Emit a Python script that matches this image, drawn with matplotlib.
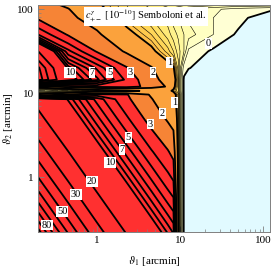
import numpy as np
import matplotlib
matplotlib.use('Agg')
import matplotlib.pyplot as plt
from matplotlib.ticker import FixedLocator, FixedFormatter

plt.rcParams['font.family'] = ['Liberation Serif', 'DejaVu Serif']
plt.rcParams['mathtext.fontset'] = 'stix'

# grid nodes (arcmin)
theta1 = [0.19, 0.45, 1.0, 2.25, 4.5, 7.1, 8.3, 9.5, 11.1, 12.6, 25, 50, 125]
theta2 = [0.215, 0.63, 2.0, 5.0, 8.5, 9.65, 10.7, 12.0, 14.5, 20, 31.6, 50, 79, 100, 116]

# c^gamma_{+-} in units of 1e-10, one row per theta2 value
c_pm = [
    [109, 60, 34.7, 19.9, 12.4, 9.0, 8.0, 1.0, -0.02, -0.3, -0.3, -0.3, -0.3],
    [64, 35.7, 20.5, 11.8, 7.3, 5.3, 4.8, 0.9, -0.02, -0.3, -0.3, -0.3, -0.3],
    [36.3, 20.2, 11.6, 6.65, 4.13, 3.1, 2.7, 0.85, -0.02, -0.3, -0.3, -0.3, -0.3],
    [23.0, 12.8, 7.35, 4.2, 2.6, 1.9, 1.7, 0.8, -0.02, -0.3, -0.3, -0.3, -0.3],
    [17.7, 9.8, 5.65, 3.24, 2.05, 1.47, 1.3, 0.75, -0.02, -0.3, -0.3, -0.3, -0.3],
    [1.2, 2.1, 3.5, 3.1, 1.9, 1.4, 1.3, 0.75, -0.02, -0.3, -0.3, -0.3, -0.3],
    [0.15, 0.4, 0.7, 0.9, 1.1, 1.2, 0.9, 0.6, -0.02, -0.3, -0.3, -0.3, -0.3],
    [1.5, 2.6, 3.4, 3.6, 2.6, 1.9, 1.2, 0.6, -0.02, -0.3, -0.3, -0.3, -0.3],
    [52, 11.5, 7.3, 3.8, 2.3, 1.7, 1.4, 0.6, -0.02, -0.3, -0.3, -0.3, -0.3],
    [45, 9.6, 5.8, 3.1, 2.1, 1.2, 1.05, 0.55, 0.05, 0.02, -0.3, -0.3, -0.3],
    [21, 5.3, 2.9, 1.9, 1.1, 0.75, 0.6, 0.45, 0.3, 0.08, -0.02, -0.3, -0.3],
    [5.1, 2.9, 2.2, 1.15, 0.8, 0.55, 0.45, 0.38, 0.3, 0.25, 0.1, -0.02, -0.3],
    [2.9, 2.3, 1.5, 0.85, 0.6, 0.45, 0.35, 0.3, 0.22, 0.18, 0.1, 0.04, -0.1],
    [2.7, 2.05, 1.15, 0.72, 0.55, 0.42, 0.35, 0.3, 0.25, 0.2, 0.12, 0.06, 0.02],
    [2.5, 1.75, 1.05, 0.7, 0.6, 0.55, 0.55, 0.55, 0.5, 0.5, 0.45, 0.4, 0.4],
]

thick_levels = [0, 1, 2, 3, 4, 5, 6, 7, 8, 9, 10, 20, 30, 40, 50, 60, 70, 80, 90, 100]
thin_levels = [0.1, 0.2, 0.3, 0.4, 0.5, 0.6, 0.7, 0.8, 0.9]

fill_bounds = [-5, 0, 0.1, 0.2, 0.3, 0.4, 0.5, 0.6, 0.7, 0.8, 0.9, 1, 2, 3, 1000]
fill_colors = ['#E1FAFF', '#FFFFD4', '#FFFFC2', '#FFFCB0', '#FFF89E', '#FFF28C',
               '#FFEA78', '#FFE066', '#FFD658', '#FFCA4E', '#FFBE48', '#FBA23C',
               '#F68436', '#FF3030']

# contour labels (text, theta1, theta2)
lab_text = ['10', '7', '5', '3', '2', '1',
            '1', '2', '3', '5', '7', '10', '20', '30', '50', '80', '0']
lab_t1 = [0.47, 0.87, 1.43, 2.5, 4.7, 7.4,
          8.5, 6.1, 4.35, 2.36, 2.0, 1.43, 0.87, 0.56, 0.38, 0.25, 22]
lab_t2 = [17.8, 17.8, 17.8, 17.8, 17.8, 23.4,
          7.8, 5.8, 4.3, 3.0, 2.15, 1.5, 0.9, 0.63, 0.39, 0.27, 39]


def squash(z):
    # compress the dynamic range so the mesh interpolates roughly logarithmically
    return np.arcsinh(5 * np.asarray(z, dtype=float))


X, Y = np.meshgrid(np.log10(theta1), np.log10(theta2))
Z = squash(c_pm)

fig = plt.figure(figsize=(2.74, 2.68), dpi=100)
ax = fig.add_axes([38 / 274, 36 / 268, 232 / 274, 227 / 268])

ax.contourf(X, Y, Z, levels=squash(fill_bounds), colors=fill_colors)
ax.contour(X, Y, Z, levels=squash(thin_levels), colors='k', linewidths=0.4)
ax.contour(X, Y, Z, levels=squash(thick_levels), colors='k', linewidths=1.3)

for t, a, b in zip(lab_text, lab_t1, lab_t2):
    ax.text(np.log10(a), np.log10(b), t, fontsize=7.5, ha='center', va='center',
            bbox=dict(boxstyle='square,pad=0.08', fc='white', ec='none'))

ax.text(0.203, 0.951, r'$c_{+-}^{\gamma}\ [10^{-10}]$ Semboloni et al.',
        transform=ax.transAxes, fontsize=7.5, ha='left', va='center',
        bbox=dict(boxstyle='square,pad=0.12', fc='white', ec='none'))

ax.set_xlim(-0.71, 2.08)
ax.set_ylim(-0.65, 2.05)

major = [0, 1, 2]
minor = [np.log10(m * d) for d in (0.1, 1, 10) for m in range(2, 10)]
for axis in (ax.xaxis, ax.yaxis):
    axis.set_major_locator(FixedLocator(major))
    axis.set_major_formatter(FixedFormatter(['1', '10', '100']))
    axis.set_minor_locator(FixedLocator(minor))

ax.tick_params(which='both', direction='in', color='#808080', labelsize=8,
               top=False, right=False, pad=3)
ax.tick_params(which='major', length=4, width=0.6)
ax.tick_params(which='minor', length=2, width=0.5)
for s in ax.spines.values():
    s.set_color('#808080')
    s.set_linewidth(0.7)

ax.set_xlabel(r'$\vartheta_1$ [arcmin]', fontsize=8, labelpad=6)
ax.set_ylabel(r'$\vartheta_2$ [arcmin]', fontsize=8)
ax.yaxis.set_label_coords(-0.098, 0.5)

fig.savefig('out.png', dpi=100)
